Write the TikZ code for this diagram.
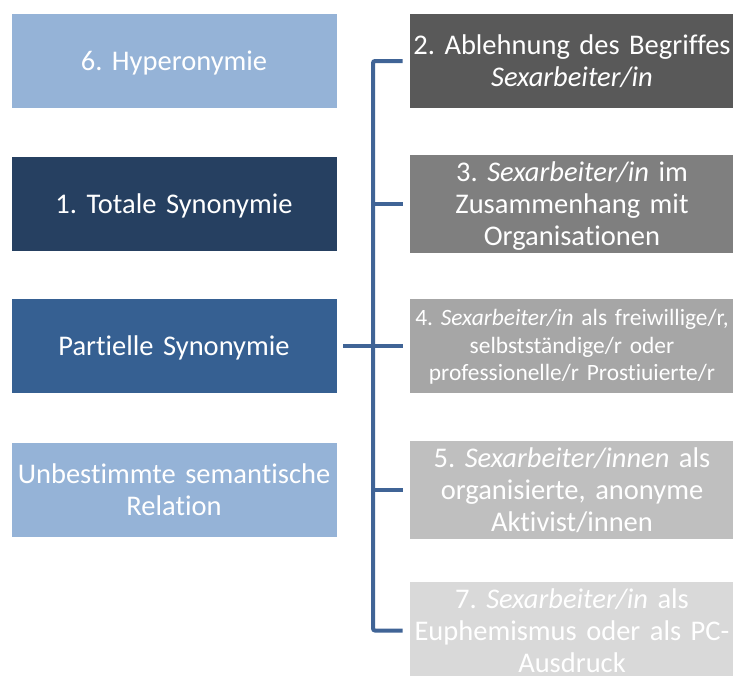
\documentclass[tikz,border=0pt]{standalone}
\usepackage{fontspec}
\setmainfont[RawFeature={-liga;-clig;-calt;-dlig}]{Carlito}
\definecolor{lb}{HTML}{95B3D7}
\definecolor{nv}{RGB}{38,64,97}
\definecolor{mb}{HTML}{366092}
\definecolor{gA}{HTML}{595959}
\definecolor{gB}{HTML}{7F7F7F}
\definecolor{gC}{HTML}{A6A6A6}
\definecolor{gD}{HTML}{BFBFBF}
\definecolor{gE}{HTML}{D9D9D9}
\definecolor{conncol}{RGB}{64,100,150}
\tikzset{
  basebox/.style={draw=white, line width=0.6pt, minimum width=326pt, minimum height=95pt,
    inner sep=0pt, text width=326pt, align=center, text=white},
  box/.style={basebox, font=\fontsize{28.5}{32}\selectfont\frenchspacing,
    execute at begin node={\rule{0pt}{27pt}},
    execute at end node={\rule[-8pt]{0pt}{8pt}}},
  smallbox/.style={basebox, font=\fontsize{23.4}{27.5}\selectfont\frenchspacing,
    execute at begin node={\rule{0pt}{21pt}},
    execute at end node={\rule[-7pt]{0pt}{7pt}}},
  conn/.style={draw=conncol, line width=4pt}
}
\begin{document}
\begin{tikzpicture}[x=1pt,y=-1pt]
\useasboundingbox (0,0) rectangle (733,675);
\clip (0,0) rectangle (733,675);
\node[box, fill=lb] (l1) at (174,61) {6. Hyperonymie};
\node[box, fill=nv] (l2) at (174,203.5) {1. Totale Synonymie};
\node[box, fill=mb] (l3) at (174,346) {Partielle Synonymie};
\node[box, fill=lb] (l4) at (174,489.5) {Unbestimmte semantische\\Relation};
\node[box, fill=gA] (r1) at (572,61) {2. Ablehnung des Begriffes\\\textit{Sexarbeiter/in}};
\node[box, fill=gB] (r2) at (572,203.5) {3. \textit{Sexarbeiter/in} im\\Zusammenhang mit\\Organisationen};
\node[smallbox, fill=gC] (r3) at (572,346) {4. \textit{Sexarbeiter/in} als freiwillige/r,\\selbstständige/r oder\\professionelle/r Prostiuierte/r};
\node[box, fill=gD] (r4) at (572,489.5) {5. \textit{Sexarbeiter/innen} als\\organisierte, anonyme\\Aktivist/innen};
\node[box, fill=gE] (r5) at (572,630.5) {7. \textit{Sexarbeiter/in} als\\Euphemismus oder als PC-\\Ausdruck};
\coordinate (j) at (373,346);
\draw[conn, rounded corners=2pt] ([xshift=-6pt]r1.west) -- (j |- r1.west) -- (j |- r5.west) -- ([xshift=-6pt]r5.west);
\draw[conn] ([xshift=6pt]l3.east) -- (j);
\draw[conn] (j |- r2.west) -- ([xshift=-6pt]r2.west);
\draw[conn] (j |- r3.west) -- ([xshift=-6pt]r3.west);
\draw[conn] (j |- r4.west) -- ([xshift=-6pt]r4.west);
\end{tikzpicture}
\end{document}
